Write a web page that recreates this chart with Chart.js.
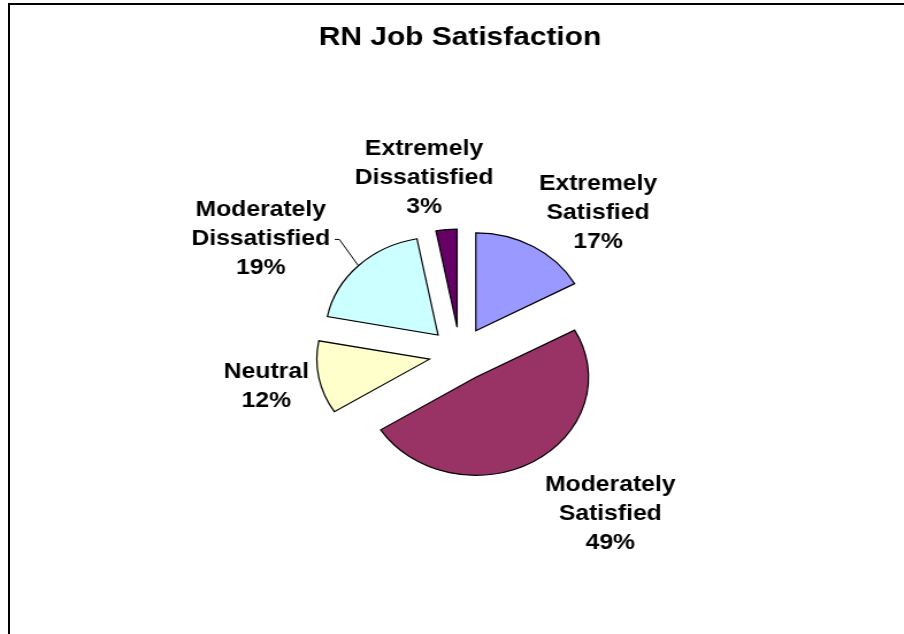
<!DOCTYPE html>
<html>
<head>
<meta charset="utf-8">
<title>RN Job Satisfaction</title>
<script src="https://cdn.jsdelivr.net/npm/chart.js@4.4.1/dist/chart.umd.min.js"></script>
<style>
  html, body { margin: 0; padding: 0; background: #fff; }
  body { width: 904px; height: 634px; overflow: hidden; position: relative; }
  /* only the top and left edges of the chart frame are in view */
  .frame { position: absolute; left: 8px; top: 3px; width: 1000px; height: 700px;
           border-left: 2px solid #000; border-top: 2px solid #000; }
  /* the original picture is a little wider than tall, so stretch the canvas */
  .chart-container { position: absolute; left: 0; top: 0; width: 786px; height: 634px;
                     transform: scaleX(1.15); transform-origin: 0 0; }
</style>
</head>
<body>
<div class="frame"></div>
<div class="chart-container">
  <canvas id="satisfactionChart" width="786" height="634"></canvas>
</div>
<script>
const categories = ["Extremely Satisfied", "Moderately Satisfied", "Neutral", "Moderately Dissatisfied", "Extremely Dissatisfied"];
const percents = [17, 49, 12, 19, 3];
const sliceColors = ["#9999FF", "#993366", "#FFFFCC", "#CCFFFF", "#660066"];

// pulls every slice out from the centre (Chart.js' own offset also grows the radius)
const explodePlugin = {
  id: 'explode',
  beforeDatasetsDraw(chart, args, opts) {
    const ctx = chart.ctx;
    chart.getDatasetMeta(0).data.forEach(arc => {
      const mid = (arc.startAngle + arc.endAngle) / 2;
      ctx.save();
      ctx.translate(Math.cos(mid) * opts.distance, Math.sin(mid) * opts.distance);
      arc.draw(ctx);
      ctx.restore();
    });
    return false;
  }
};

// category + percent labels around the pie, angle clockwise from 12 o'clock
const pieLabelsPlugin = {
  id: 'pieLabels',
  afterDraw(chart, args, opts) {
    const ctx = chart.ctx;
    const explode = chart.options.plugins.explode.distance;
    ctx.save();
    ctx.font = opts.font;
    ctx.fillStyle = '#000';
    ctx.strokeStyle = '#000';
    ctx.lineWidth = 1;
    ctx.textAlign = 'center';
    ctx.textBaseline = 'middle';
    chart.getDatasetMeta(0).data.forEach((arc, i) => {
      const spot = opts.spots[i];
      const a = spot.angle * Math.PI / 180;
      const r = arc.outerRadius * spot.dist;
      const cx = arc.x + Math.sin(a) * r;
      const cy = arc.y - Math.cos(a) * r;
      const lines = categories[i].split(' ').concat([percents[i] + '%']);
      const top = cy - (lines.length - 1) * opts.lineHeight / 2;
      lines.forEach((txt, j) => ctx.fillText(txt, cx, top + j * opts.lineHeight));

      if (spot.leader) {
        const mid = (arc.startAngle + arc.endAngle) / 2;
        const px = arc.x + Math.cos(mid) * (explode + arc.outerRadius);
        const py = arc.y + Math.sin(mid) * (explode + arc.outerRadius);
        const wide = Math.max(...lines.map(t => ctx.measureText(t).width));
        const ly = top + opts.lineHeight * (lines.length - 2);
        const lx = cx + wide / 2 + 4;
        ctx.beginPath();
        ctx.moveTo(lx, ly);
        ctx.lineTo(lx + 4, ly);
        ctx.lineTo(px, py);
        ctx.stroke();
      }
    });
    ctx.restore();
  }
};

new Chart("satisfactionChart", {
  type: "pie",
  data: {
    labels: categories,
    datasets: [{
      data: percents,
      backgroundColor: sliceColors,
      borderColor: "#000",
      borderWidth: 1.2,
      borderJoinStyle: "miter"
    }]
  },
  options: {
    responsive: false,
    animation: false,
    radius: 98,
    layout: { padding: { left: 14 } },
    plugins: {
      legend: { display: false },
      tooltip: { enabled: false },
      title: {
        display: true,
        text: "RN Job Satisfaction",
        color: "#000",
        font: { family: "'Liberation Sans', Arial, sans-serif", size: 26, weight: "bold", lineHeight: 1.2 },
        padding: { top: 22, bottom: 21 }
      },
      explode: { distance: 27 },
      pieLabels: {
        font: "bold 21.5px 'Liberation Sans', Arial, sans-serif",
        lineHeight: 29,
        spots: [
          { angle: 40.4, dist: 1.89 },
          { angle: 140.8, dist: 2.11 },
          { angle: 259.1, dist: 1.75 },
          { angle: 303.5, dist: 2.12, leader: true },
          { angle: 349.9, dist: 1.82 }
        ]
      }
    }
  },
  plugins: [explodePlugin, pieLabelsPlugin]
});
</script>
</body>
</html>
